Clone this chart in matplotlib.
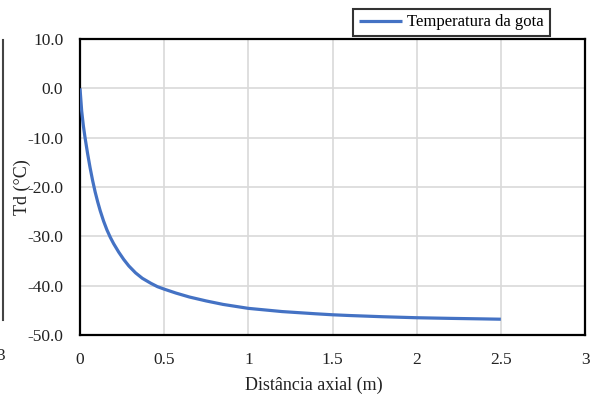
import matplotlib
matplotlib.use("Agg")
import matplotlib.pyplot as plt
from matplotlib.lines import Line2D

# Droplet temperature along the axial distance
distance_m = [0.0, 0.01, 0.02, 0.03, 0.045, 0.06, 0.075, 0.09, 0.105, 0.12, 0.14,
              0.16, 0.18, 0.2, 0.23, 0.26, 0.29, 0.33, 0.37, 0.42, 0.46, 0.5,
              0.57, 0.65, 0.75, 0.85, 1.0, 1.2, 1.4, 1.5, 1.6, 1.8, 2.0, 2.2, 2.4, 2.5]
temp_c = [0.0, -4.6, -7.6, -10.0, -13.2, -16.1, -18.7, -21.0, -23.0, -24.8, -26.9,
          -28.7, -30.2, -31.5, -33.2, -34.7, -36.0, -37.4, -38.5, -39.5, -40.2, -40.7,
          -41.5, -42.3, -43.1, -43.8, -44.6, -45.25, -45.7, -45.9, -46.05, -46.3,
          -46.5, -46.63, -46.74, -46.8]

x_ticks = [0, 0.5, 1, 1.5, 2, 2.5, 3]
x_tick_labels = ["0", "0.5", "1", "1.5", "2", "2.5", "3"]
y_ticks = [10, 0, -10, -20, -30, -40, -50]
y_tick_labels = ["10.0", "0.0", "-10.0", "-20.0", "-30.0", "-40.0", "-50.0"]

plt.rcParams["font.family"] = ["Liberation Serif", "DejaVu Serif"]

W, H = 594, 403
fig = plt.figure(figsize=(W / 100, H / 100), dpi=100)
ax = fig.add_axes([80 / W, 1 - 335 / H, (585 - 80) / W, (335 - 39) / H])

ax.plot(distance_m, temp_c, color="#4472C4", lw=2.3, label="Temperatura da gota",
        solid_capstyle="butt", solid_joinstyle="round", zorder=3)

ax.set_xlim(0, 3)
ax.set_ylim(-50, 10)
ax.set_xticks(x_ticks)
ax.set_xticklabels(x_tick_labels)
ax.set_yticks(y_ticks)
ax.set_yticklabels(y_tick_labels)
ax.tick_params(axis="both", length=0, labelsize=12.5, colors="#222222")
ax.tick_params(axis="x", pad=12)
ax.tick_params(axis="y", pad=12)
ax.grid(True, color="#d9d9d9", lw=1.2, zorder=0)
ax.set_axisbelow(True)
for s in ax.spines.values():
    s.set_color("black")
    s.set_linewidth(1.6)

ax.set_xlabel("Distância axial (m)", fontsize=13, color="#222222", va="center")
ax.xaxis.set_label_coords((314 - 80) / 505, (335 - 385) / 296)
ax.set_ylabel("Td (°C)", fontsize=13, color="#222222", va="center")
ax.yaxis.set_label_coords((22 - 80) / 505, (335 - 187) / 296)

leg = fig.legend(loc="center", bbox_to_anchor=((355 + 548) / 2 / W, 1 - 22.5 / H),
                 fontsize=12, frameon=True, fancybox=False, handlelength=2.6,
                 handletextpad=0.3, borderpad=0.35, borderaxespad=0)
leg.get_frame().set_edgecolor("black")
leg.get_frame().set_linewidth(1.5)
leg.set_zorder(10)

# Edge of the neighbouring panel on the left
fig.add_artist(Line2D([2.5 / W, 2.5 / W], [1 - 40 / H, 1 - 320 / H],
                      color="#444444", lw=1.5))
fig.text(-4 / W, 1 - 356 / H, "3", fontsize=12.5, va="center", ha="left",
         color="#222222")

fig.savefig("out.png", dpi=100)
